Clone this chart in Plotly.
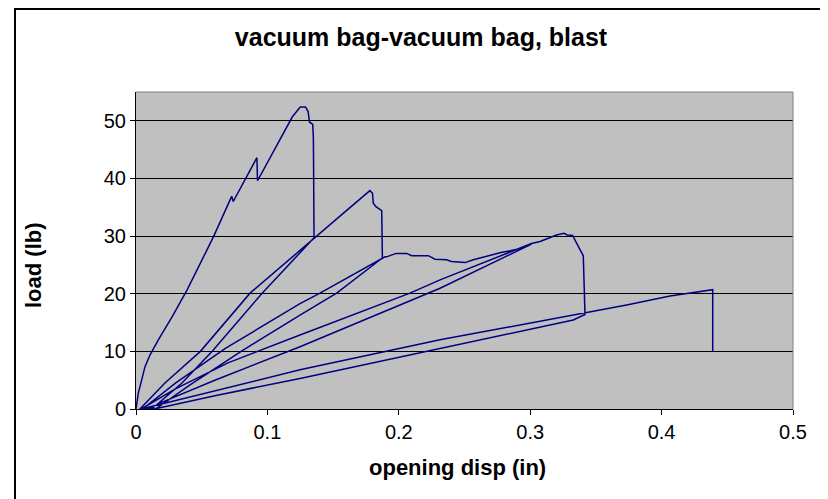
import plotly.graph_objects as go

# opening displacement (in) / load (lb), in test order
load1_x = [0, 0.0018, 0.0043, 0.0068, 0.0107, 0.017, 0.028, 0.039, 0.059, 0.0728, 0.074,
           0.092, 0.0925, 0.119, 0.125, 0.129, 0.131, 0.132, 0.1345, 0.135, 0.1355]
load1_y = [0, 2.8, 5.0, 7.3, 9.4, 12.0, 16.2, 20.7, 29.9, 36.9, 36.0,
           43.6, 39.6, 50.7, 52.4, 52.4, 51.6, 49.8, 49.4, 47.0, 29.7]

unload1_x = [0.096, 0.058, 0.035, 0.012]
unload1_y = [20.1, 10.0, 4.5, 0]

load2_x = [0.003, 0.022, 0.049, 0.0868, 0.1355, 0.157, 0.178, 0.18, 0.1806, 0.1826, 0.187, 0.1875]
load2_y = [0, 4.5, 10.0, 20.1, 29.7, 33.8, 37.9, 37.4, 35.7, 35.1, 34.4, 26.2]

unload2_x = [0.1527, 0.1248, 0.08, 0.04, 0.015]
unload2_y = [20.1, 16.3, 10.0, 4.0, 0]

load3_x = [0.005, 0.03, 0.068, 0.1248, 0.140, 0.1895, 0.1908, 0.198, 0.206, 0.2098, 0.2225,
           0.2275, 0.2364, 0.240, 0.2504, 0.2567, 0.269, 0.277, 0.290, 0.301]
load3_y = [0, 4.5, 10.5, 18.3, 20.1, 26.4, 26.4, 27.0, 27.0, 26.6, 26.6,
           26.0, 25.9, 25.6, 25.4, 25.9, 26.7, 27.1, 27.7, 28.6]

unload3_x = [0.2314, 0.1248, 0.06, 0.02, 0.009]
unload3_y = [20.95, 10.8, 5.0, 1.2, 0]

load4_x = [0.004, 0.03, 0.07, 0.1248, 0.2085, 0.2314, 0.301, 0.3075, 0.320, 0.3257, 0.3283,
           0.3323, 0.334, 0.338, 0.3404, 0.341, 0.3417]
load4_y = [0, 3.5, 8.0, 12.85, 20.1, 22.4, 28.7, 29.05, 30.2, 30.5, 30.2,
           30.1, 29.3, 27.6, 26.6, 21.2, 16.4]

unload4_x = [0.3328, 0.2314, 0.1248, 0.06, 0.014]
unload4_y = [15.45, 10.5, 5.3, 2.3, 0]

load5_x = [0.004, 0.05, 0.1248, 0.2314, 0.3417, 0.3734, 0.4064, 0.4381, 0.4389, 0.4389]
load5_y = [0, 2.6, 6.8, 12.0, 16.6, 18.05, 19.6, 20.8, 20.7, 9.95]

disp = load1_x + unload1_x + load2_x + unload2_x + load3_x + unload3_x + load4_x + unload4_x + load5_x
load = load1_y + unload1_y + load2_y + unload2_y + load3_y + unload3_y + load4_y + unload4_y + load5_y

font = 'Arial, Liberation Sans, sans-serif'

# the page body has an 8px margin, so the figure is made 8px smaller
W, H = 820, 491
L, T = 128, 84          # plot area starts at 136, 92 on the page
PW, PH = 657, 317       # plot area size

fig = go.Figure()
fig.add_trace(go.Scatter(
    x=disp, y=load,
    mode='lines',
    line=dict(color='#000080', width=1.5),
    showlegend=False))

fig.update_layout(
    width=W,
    height=H,
    margin=dict(l=L, r=W - L - PW, t=T, b=H - T - PH),
    paper_bgcolor='white',
    plot_bgcolor='#C0C0C0',
    font=dict(family=font, size=20, color='black'),
    title=dict(
        text='<b>vacuum bag-vacuum bag, blast</b>',
        x=(421 - 8) / W, xanchor='center',
        y=1 - (37 - 8) / H, yanchor='middle',
        font=dict(size=25, family=font)),
    xaxis=dict(
        range=[0, 0.5],
        dtick=0.1,
        showgrid=False,
        zeroline=False,
        showline=True, linecolor='black', linewidth=1,
        ticks='outside', ticklen=5, tickcolor='black'),
    yaxis=dict(
        range=[0, 55],
        tickvals=[0, 10, 20, 30, 40, 50],
        showgrid=True, gridcolor='black', gridwidth=1,
        zeroline=False,
        showline=True, linecolor='black', linewidth=1,
        ticks='outside', ticklen=5, tickcolor='black'),
    annotations=[
        dict(text='<b>opening disp (in)</b>', xref='paper', yref='paper',
             x=(457 - 136) / PW, y=(409 - 467) / PH, showarrow=False,
             xanchor='center', yanchor='middle', font=dict(size=22)),
        dict(text='<b>load (lb)</b>', xref='paper', yref='paper',
             x=(33 - 136) / PW, y=(409 - 265) / PH, showarrow=False, textangle=-90,
             xanchor='center', yanchor='middle', font=dict(size=22)),
    ],
    shapes=[
        # gray plot-area edge on top and right
        dict(type='line', xref='paper', yref='paper', x0=0, x1=1, y0=1, y1=1,
             line=dict(color='#808080', width=1)),
        dict(type='line', xref='paper', yref='paper', x0=1, x1=1, y0=0, y1=1,
             line=dict(color='#808080', width=1)),
        # chart frame
        dict(type='rect', xref='paper', yref='paper',
             x0=(15 - 136) / PW, x1=2, y0=-2, y1=(409 - 9) / PH,
             line=dict(color='black', width=2)),
    ],
)

fig.write_html("out.html")
